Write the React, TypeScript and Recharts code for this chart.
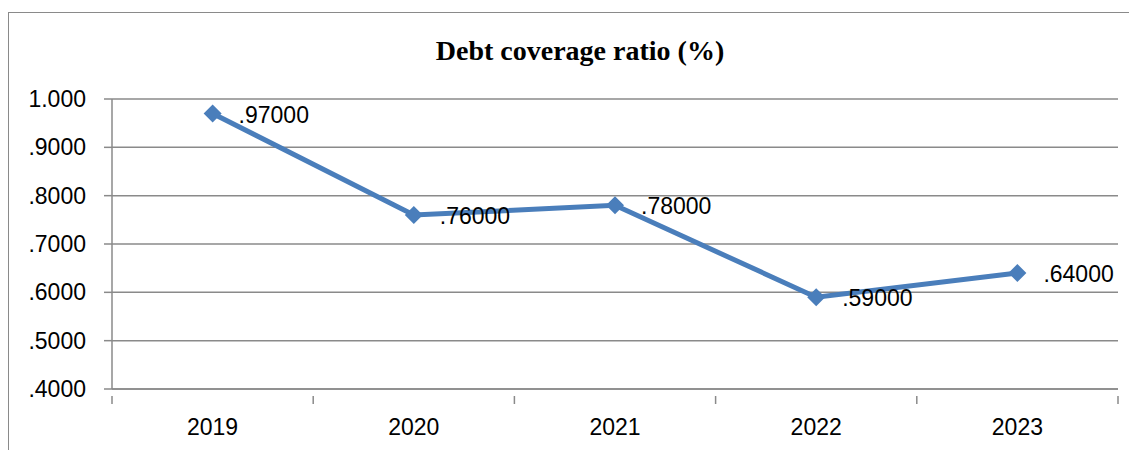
import { LineChart, Line, XAxis, YAxis, CartesianGrid, LabelList } from "recharts";

const years = ["2019", "2020", "2021", "2022", "2023"];
const ratios = [0.97, 0.76, 0.78, 0.59, 0.64];
const yTicks = [0.4, 0.5, 0.6, 0.7, 0.8, 0.9, 1.0];

const data = years.map((year, i) => ({ year, ratio: ratios[i] }));

const CHART_W = 1128;
const CHART_H = 437;
const MARGIN = { top: 86, right: 19, left: 0, bottom: 31 };
const Y_AXIS_W = 103;
const BAND = (CHART_W - MARGIN.left - MARGIN.right - Y_AXIS_W) / years.length;

const LINE_COLOR = "#4a7ebb";
const GRID_COLOR = "#8a8a8a";
const FONT = "'Liberation Sans', Arial, sans-serif";

function formatTick(v: number): string {
  if (v >= 1) return v.toFixed(3);
  return v.toFixed(4).replace(/^0/, "");
}

function formatLabel(v: number): string {
  return v.toFixed(5).replace(/^0/, "");
}

/** Diamond marker like the Excel default. */
function Diamond({ cx, cy }: { cx?: number; cy?: number }) {
  if (cx == null || cy == null) return null;
  const r = 9;
  return (
    <polygon
      points={`${cx},${cy - r} ${cx + r},${cy} ${cx},${cy + r} ${cx - r},${cy}`}
      fill={LINE_COLOR}
    />
  );
}

/** Category label centred in the band, with tick marks on the band edges. */
function YearTick({ x, y, payload, index }: any) {
  const left = x - BAND / 2;
  const last = index === years.length - 1;
  return (
    <g>
      <line x1={left} x2={left} y1={y - 1} y2={y + 7} stroke={GRID_COLOR} strokeWidth={1.5} />
      {last && (
        <line x1={x + BAND / 2} x2={x + BAND / 2} y1={y - 1} y2={y + 7} stroke={GRID_COLOR} strokeWidth={1.5} />
      )}
      <text x={x} y={y + 38} textAnchor="middle" fontFamily={FONT} fontSize={23} fill="#000">
        {payload.value}
      </text>
    </g>
  );
}

function PointLabel({ x, y, value }: any) {
  return (
    <text x={x + 26} y={y + 3} dominantBaseline="middle" fontFamily={FONT} fontSize={23} fill="#000">
      {formatLabel(value)}
    </text>
  );
}

export default function App() {
  return (
    <div
      style={{
        position: "relative",
        marginTop: 4,
        width: CHART_W,
        height: CHART_H,
        borderTop: `1.5px solid ${GRID_COLOR}`,
        borderLeft: `1.5px solid ${GRID_COLOR}`,
      }}
    >
      <div
        style={{
          position: "absolute",
          left: 0,
          width: 1142,
          top: 22,
          textAlign: "center",
          fontFamily: "'Liberation Serif', 'Times New Roman', serif",
          fontWeight: "bold",
          fontSize: 28,
        }}
      >
        Debt coverage ratio (%)
      </div>
      <LineChart width={CHART_W} height={CHART_H} data={data} margin={MARGIN}>
        <CartesianGrid vertical={false} stroke={GRID_COLOR} strokeWidth={1.5} />
        <XAxis
          dataKey="year"
          axisLine={{ stroke: GRID_COLOR, strokeWidth: 1.5 }}
          tickLine={false}
          tick={<YearTick />}
          interval={0}
          height={30}
          padding={{ left: BAND / 2, right: BAND / 2 }}
        />
        <YAxis
          domain={[0.4, 1.0]}
          ticks={yTicks}
          tickFormatter={formatTick}
          width={Y_AXIS_W}
          axisLine={{ stroke: GRID_COLOR, strokeWidth: 1.5 }}
          tickLine={{ stroke: GRID_COLOR, strokeWidth: 1.5 }}
          tickSize={8}
          tickMargin={18}
          tick={{ fill: "#000", fontFamily: FONT, fontSize: 23 }}
        />
        <Line
          dataKey="ratio"
          stroke={LINE_COLOR}
          strokeWidth={5}
          dot={<Diamond />}
          activeDot={false}
          isAnimationActive={false}
        >
          <LabelList dataKey="ratio" content={<PointLabel />} />
        </Line>
      </LineChart>
    </div>
  );
}
